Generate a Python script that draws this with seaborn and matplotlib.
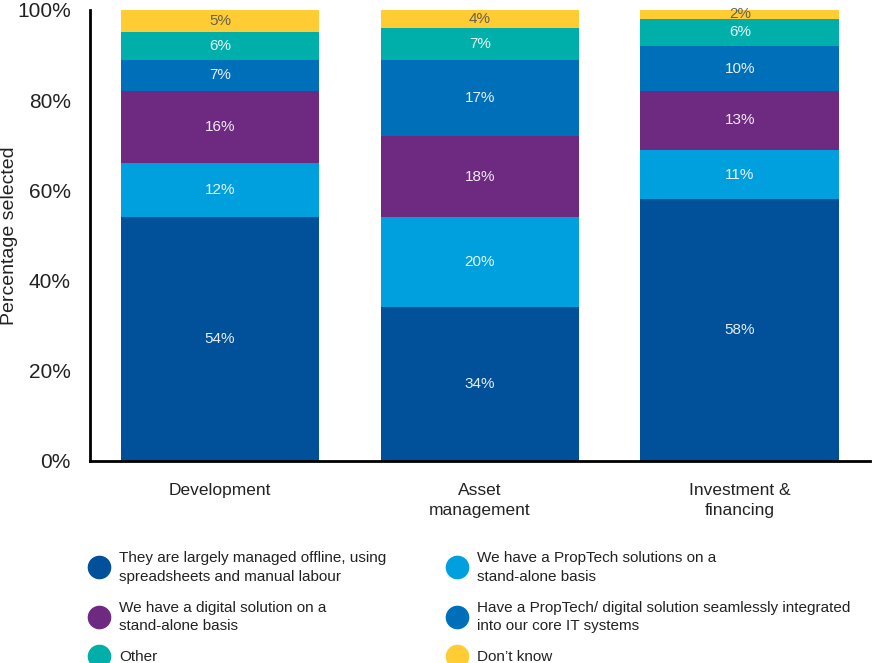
import pandas as pd
import matplotlib.pyplot as plt
from matplotlib.lines import Line2D
import seaborn as sns

sectors = ["Development", "Asset\nmanagement", "Investment &\nfinancing"]
series = [
    "They are largely managed offline, using\nspreadsheets and manual labour",
    "We have a PropTech solutions on a\nstand-alone basis",
    "We have a digital solution on a\nstand-alone basis",
    "Have a PropTech/ digital solution seamlessly integrated\ninto our core IT systems",
    "Other",
    "Don\u2019t know",
]
offline = [54, 34, 58]
proptech_standalone = [12, 20, 11]
digital_standalone = [16, 18, 13]
integrated = [7, 17, 10]
other = [6, 7, 6]
dont_know = [5, 4, 2]
colors = ["#00509A", "#009FDE", "#6E2A81", "#006FBA", "#00AFAA", "#FFCD33"]


def main():
    sns.set_style("white")
    plt.rcParams["font.family"] = ["Liberation Sans", "DejaVu Sans"]

    values = [offline, proptech_standalone, digital_standalone, integrated, other, dont_know]
    df = pd.DataFrame({
        "sector": [s for _ in series for s in sectors],
        "series": [name for name in series for _ in sectors],
        "value": [v for vals in values for v in vals],
    })

    fig = plt.figure(figsize=(8.75, 6.63), dpi=100)
    ax = fig.add_axes([0.103, 0.305, 0.891, 0.68])

    bottom = [0, 0, 0]
    for i, name in enumerate(series):
        sub = df[df["series"] == name]
        sns.barplot(data=sub, x="sector", y="value", color=colors[i], bottom=bottom,
                    width=0.765, saturation=1, errorbar=None, linewidth=0, ax=ax)
        cont = ax.containers[-1]
        txt_color = "#555555" if name == "Don\u2019t know" else "white"
        ax.bar_label(cont, labels=[f"{v}%" for v in sub["value"]], label_type="center",
                     color=txt_color, fontsize=11, alpha=0.9)
        bottom = [b + v for b, v in zip(bottom, sub["value"])]

    ax.set_xlim(-0.5, 2.5)
    ax.set_ylim(0, 100)
    ax.set_yticks([0, 20, 40, 60, 80, 100])
    ax.set_yticklabels([f"{t}%" for t in [0, 20, 40, 60, 80, 100]], fontsize=15, color="#222222")
    ax.tick_params(axis="y", length=0, pad=14)
    ax.tick_params(axis="x", length=0, pad=16, labelsize=12.5, labelcolor="#222222")
    for t in ax.get_xticklabels():
        t.set_linespacing(1.45)
    ax.set_xlabel("")
    ax.set_ylabel("Percentage selected", fontsize=14, color="#222222")
    ax.yaxis.set_label_coords(-0.092, 0.5)
    sns.despine(ax=ax)
    for side in ["left", "bottom"]:
        ax.spines[side].set_color("black")
        ax.spines[side].set_linewidth(2)

    order = [0, 2, 4, 1, 3, 5]
    handles = [Line2D([], [], marker="o", linestyle="", markersize=16,
                      markerfacecolor=colors[i], markeredgecolor=colors[i]) for i in order]
    labels = [series[i] for i in order]
    leg = fig.legend(handles, labels, loc="upper left", bbox_to_anchor=(0.084, 0.19), ncol=2,
                     frameon=False, fontsize=11, handletextpad=0.5, columnspacing=3.8,
                     labelspacing=1.1, handlelength=1.6)
    for t in leg.get_texts():
        t.set_linespacing(1.45)
        t.set_color("#222222")

    fig.savefig("out.png", dpi=100)


if __name__ == "__main__":
    main()
